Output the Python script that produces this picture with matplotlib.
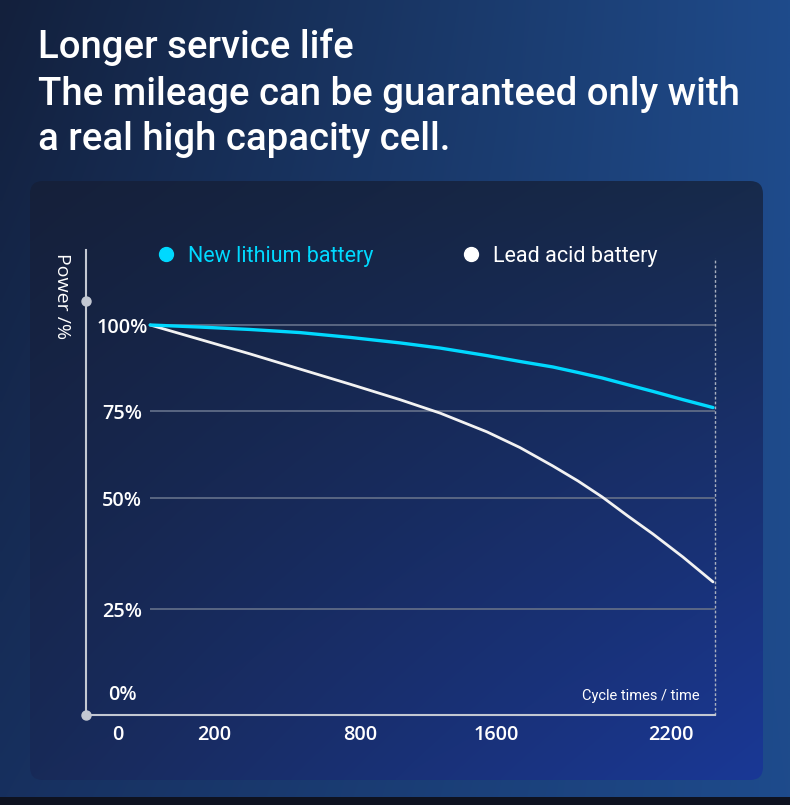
import numpy as np
import matplotlib
matplotlib.use("Agg")
import matplotlib.pyplot as plt
from matplotlib import font_manager as fm
from matplotlib.patches import FancyBboxPatch, Rectangle
from matplotlib.lines import Line2D

# ---------------- data ----------------
cycles = [67, 171, 348, 553, 759, 1035, 1271, 1547, 1682, 1795, 1881, 1964, 2053, 2138, 2241, 2344]
lithium = [100, 99.4, 98.7, 97.8, 96.4, 94.8, 93.3, 91.1, 89.4, 87.8, 86.2, 84.6, 82.6, 80.7, 78.3, 76.0]
lead_acid = [100, 95.8, 91.6, 87.2, 82.8, 78.3, 74.4, 69.0, 64.5, 59.2, 54.9, 50.3, 45.9, 41.9, 36.7, 31.1]
x_ticks = [0, 200, 800, 1600, 2200]
y_ticks = [0, 25, 50, 75, 100]
y_tick_labels = ["0%", "25%", "50%", "75%", "100%"]
grid_levels = [25, 50, 75, 100]
series_names = ["New lithium battery", "Lead acid battery"]
title_lines = ["Longer service life",
               "The mileage can be guaranteed only with",
               "a real high capacity cell."]

# ---------------- layout / style ----------------
W, H = 790, 805
names = {f.name for f in fm.fontManager.ttflist}
NARROW = "Roboto"
GEOM = "Open Sans" if "Open Sans" in names else "DejaVu Sans"
CYAN = "#00d9ff"
WHITE = "#f2f2f2"
AX_COL = "#c3c8d2"

# axis pixel positions of the (non-uniform) tick marks
X_TICK_PX = [32, 128, 274, 410, 585]
Y_TICK_PX = [23, 106, 217, 304, 390]
AX_L, AX_R, AX_B, AX_T = 86, 715, 715, 250


def piecewise(src, dst):
    src = np.asarray(src, float)
    dst = np.asarray(dst, float)
    s0 = (dst[1] - dst[0]) / (src[1] - src[0])
    s1 = (dst[-1] - dst[-2]) / (src[-1] - src[-2])

    def f(v):
        v = np.asarray(v, float)
        shp = v.shape
        v1 = np.atleast_1d(v).astype(float)
        out = np.interp(v1, src, dst)
        lo = v1 < src[0]
        hi = v1 > src[-1]
        out[lo] = dst[0] + (v1[lo] - src[0]) * s0
        out[hi] = dst[-1] + (v1[hi] - src[-1]) * s1
        return out.reshape(shp)
    return f


xf = piecewise(x_ticks, X_TICK_PX)
xi = piecewise(X_TICK_PX, x_ticks)
yf = piecewise(y_ticks, Y_TICK_PX)
yi = piecewise(Y_TICK_PX, y_ticks)

fig = plt.figure(figsize=(W / 100, H / 100), dpi=100)

# ---------------- background ----------------
bg = fig.add_axes([0, 0, 1, 1])
bg.set_xlim(0, W)
bg.set_ylim(H, 0)
bg.axis("off")


def hexrgb(h):
    h = h.lstrip("#")
    return np.array([int(h[i:i + 2], 16) / 255 for i in (0, 2, 4)])


def bilinear(tl, tr, bl, br, nx=200, ny=200):
    u = np.linspace(0, 1, nx)[None, :, None]
    v = np.linspace(0, 1, ny)[:, None, None]
    tl, tr, bl, br = map(hexrgb, (tl, tr, bl, br))
    top = tl * (1 - u) + tr * u
    bot = bl * (1 - u) + br * u
    return top * (1 - v) + bot * v


outer = bilinear("#13203c", "#1f4b8b", "#17305f", "#1e4b8c")
bg.imshow(outer, extent=[0, W, H, 0], aspect="auto", interpolation="bilinear", zorder=0)

card = FancyBboxPatch((30, 181), 733, 599, boxstyle="round,pad=0,rounding_size=13",
                      facecolor="none", edgecolor="none", zorder=1)
bg.add_patch(card)
cimg = bilinear("#15203a", "#172a4b", "#182a58", "#1a3896")
im = bg.imshow(cimg, extent=[30, 763, 780, 181], aspect="auto", interpolation="bilinear", zorder=1)
im.set_clip_path(card)
bg.add_patch(Rectangle((0, 797), W, 8, facecolor="#0e1220", edgecolor="none", zorder=2))

# ---------------- titles ----------------
baselines = [58, 105, 150]
for line, yb in zip(title_lines, baselines):
    fig.text(38 / W, 1 - yb / H, line, color="white", fontsize=27.6, family=NARROW,
             fontweight="medium", ha="left", va="baseline")

# ---------------- chart ----------------
ax = fig.add_axes([AX_L / W, 1 - AX_B / H, (AX_R - AX_L) / W, (AX_B - AX_T) / H])
ax.set_facecolor("none")
ax.set_xscale("function", functions=(xf, xi))
ax.set_yscale("function", functions=(yf, yi))
xmin, xmax = float(xi(0.0)), float(xi(AX_R - AX_L))
ymin, ymax = float(yi(0.0)), float(yi(AX_B - AX_T))
ax.set_xlim(xmin, xmax)
ax.set_ylim(ymin, ymax)

ax.hlines(grid_levels, cycles[0], xmax, colors="#5f6b86", lw=1.3, zorder=1)
ax.plot(cycles, lead_acid, color=WHITE, lw=2.0, solid_capstyle="round",
        solid_joinstyle="round", zorder=3)
ax.plot(cycles, lithium, color=CYAN, lw=2.4, solid_capstyle="round",
        solid_joinstyle="round", zorder=4)

for s in ("top", "right"):
    ax.spines[s].set_visible(False)
for s in ("left", "bottom"):
    ax.spines[s].set_color(AX_COL)
    ax.spines[s].set_linewidth(1.5)

ax.axvline(xmax, ymin=0, ymax=(AX_B - 258) / (AX_B - AX_T), color="#aab1c0", lw=1.0,
           ls=(0, (2, 1.5)), clip_on=False)
ax.plot([0, 0], [0, (AX_B - 301) / (AX_B - AX_T)], "o", ms=6.5, color=AX_COL,
        transform=ax.transAxes, clip_on=False, zorder=5)

ax.set_xticks(x_ticks)
ax.set_xticklabels([str(t) for t in x_ticks])
ax.set_yticks(y_ticks)
ax.set_yticklabels(y_tick_labels)
ax.tick_params(axis="x", length=0, pad=7.5, labelsize=14.3, labelcolor="white")
ax.tick_params(axis="y", length=0, pad=-26, labelsize=14.3, labelcolor="white")
for lab in ax.get_xticklabels() + ax.get_yticklabels():
    lab.set_family(GEOM)
    lab.set_fontweight("semibold")
for lab in ax.get_yticklabels():
    lab.set_horizontalalignment("center")
ax.minorticks_off()

# y-axis name and x-axis name
fig.text(62 / W, 1 - 253 / H, "Power /%", rotation=270, color="white", fontsize=14,
         family=GEOM, ha="center", va="top")
fig.text(700 / W, 1 - 700 / H, "Cycle times / time", color="white", fontsize=10.5,
         family=NARROW, ha="right", va="baseline")

# legend
handles = [Line2D([], [], ls="none", marker="o", ms=10, color=c) for c in (CYAN, "white")]
leg = ax.legend(handles, series_names, ncol=2, frameon=False, loc="center left",
                bbox_to_anchor=((160 - AX_L) / (AX_R - AX_L), (AX_B - 256) / (AX_B - AX_T)),
                handlelength=0.6, handletextpad=0.7, columnspacing=4.25,
                prop={"family": NARROW, "size": 15.5},
                borderaxespad=0, borderpad=0)
for t, c in zip(leg.get_texts(), (CYAN, "white")):
    t.set_color(c)

fig.savefig("out.png", dpi=100)
